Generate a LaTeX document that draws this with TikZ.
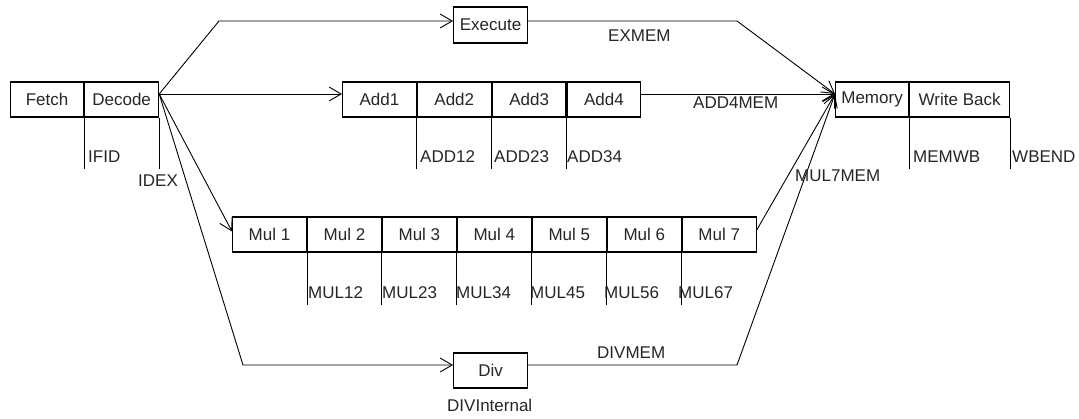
\documentclass[tikz,border=0pt]{standalone}
\usepackage{fontspec}
\setmainfont{Liberation Sans}
\usetikzlibrary{arrows.meta,calc}
\begin{document}
\begin{tikzpicture}[x=1pt,y=-1pt,
  stage/.style={draw=black,line width=1.1pt,inner sep=0pt,minimum height=35pt,
    anchor=west,font=\fontsize{17}{20}\selectfont,text=black!85},
  wire/.style={draw=black,line width=0.9pt},
  arr/.style={wire,-{Straight Barb[length=12pt,width=14pt,line width=0.9pt]}},
  latch/.style={draw=black,line width=0.9pt},
  lbl/.style={anchor=base west,inner sep=0pt,font=\fontsize{17}{20}\selectfont,text=black!85}]
\useasboundingbox (0,0) rectangle (1079,419);

% front end
\node[stage,minimum width=73pt] (fetch) at (10,99.5) {Fetch};
\node[stage,minimum width=74pt] (dec) at (fetch.east) {Decode};

% single-cycle execute
\node[stage,minimum width=74pt,minimum height=36pt] (exe) at (453,25) {Execute};

% adder pipeline
\node[stage,minimum width=73.75pt] (add1) at (342,99.5) {Add1};
\node[stage,minimum width=73.75pt] (add2) at (add1.east) {Add2};
\node[stage,minimum width=73.75pt] (add3) at (add2.east) {Add3};
\node[stage,minimum width=73.75pt] (add4) at (add3.east) {Add4};

% multiplier pipeline
\node[stage,minimum width=73.86pt] (mul1) at (232,234.5) {Mul 1};
\node[stage,minimum width=73.86pt] (mul2) at (mul1.east) {Mul 2};
\node[stage,minimum width=73.86pt] (mul3) at (mul2.east) {Mul 3};
\node[stage,minimum width=73.86pt] (mul4) at (mul3.east) {Mul 4};
\node[stage,minimum width=73.86pt] (mul5) at (mul4.east) {Mul 5};
\node[stage,minimum width=73.86pt] (mul6) at (mul5.east) {Mul 6};
\node[stage,minimum width=73.86pt] (mul7) at (mul6.east) {Mul 7};

% divider
\node[stage,minimum width=74pt] (div) at (453,370.5) {Div};

% back end
\node[stage,minimum width=73pt] (mem) at (835,99.5) {Memory};
\node[stage,minimum width=100pt] (wb) at (mem.east) {Write Back};

% pipeline registers
\foreach \n/\d in {fetch/51,dec/51,add1/51,add2/51,add3/51,mem/51,wb/51,
                   mul1/52,mul2/52,mul3/52,mul4/52,mul5/52,mul6/52}
  \draw[latch] (\n.south east) -- ++(0,\d);

\node[lbl] (ifid) at (88,163) {IFID};
\node[lbl] (idex) at (138,187) {IDEX};
\node[lbl] (a12) at (420,163) {ADD12};
\node[lbl] (a23) at (494,163) {ADD23};
\node[lbl] (a34) at (567,163) {ADD34};
\node[lbl] (memwb) at (913,163) {MEMWB};
\node[lbl] (wbend) at (1012,163) {WBEND};
\node[lbl] (m12) at (308,299) {MUL12};
\node[lbl] (m23) at (382,299) {MUL23};
\node[lbl] (m34) at (456,299) {MUL34};
\node[lbl] (m45) at (530,299) {MUL45};
\node[lbl] (m56) at (604,299) {MUL56};
\node[lbl] (m67) at (678,299) {MUL67};

% bend points of the issue and writeback paths
\coordinate (exin) at (219,21);
\coordinate (exout) at (737,21);
\coordinate (dvin) at (243,365);
\coordinate (dvout) at (737,365);

% issue from decode
\draw[arr] ([yshift=5.5pt]dec.east) -- (exin) -- ([yshift=4pt]exe.west);
\draw[arr] ([yshift=5.5pt]dec.east) -- ([yshift=5.5pt]add1.west);
\draw[arr] ([yshift=5.5pt]dec.east) -- ([yshift=3pt]mul1.west);
\draw[arr] ([yshift=5.5pt]dec.east) -- (dvin) -- ([yshift=5.5pt]div.west);

% results into memory stage
\draw[arr] ([yshift=4pt]exe.east) -- (exout) -- ([yshift=5.5pt]mem.west);
\draw[arr] ([yshift=5.5pt]add4.east) -- ([yshift=5.5pt]mem.west);
\draw[arr] ([yshift=4.5pt]mul7.east) -- ([yshift=5.5pt]mem.west);
\draw[arr] ([yshift=5.5pt]div.east) -- (dvout) -- ([yshift=5.5pt]mem.west);

\node[lbl] (exmem) at (608,42) {EXMEM};
\node[lbl] (addmem) at (693,109) {ADD4MEM};
\node[lbl] (mulmem) at (795,182) {MUL7MEM};
\node[lbl] (divmem) at (597,359) {DIVMEM};
\node[lbl] (divint) at (447,412) {DIVInternal};
\end{tikzpicture}
\end{document}
